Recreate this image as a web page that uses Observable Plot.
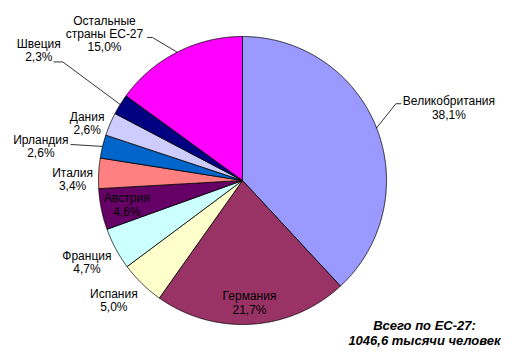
<!DOCTYPE html>
<html><head><meta charset="utf-8">
<script src="https://cdn.jsdelivr.net/npm/d3@7"></script>
<script src="https://cdn.jsdelivr.net/npm/@observablehq/plot@0.6"></script>
<style>body{margin:0;background:#fff}svg{font-family:"Liberation Sans",Arial,sans-serif}</style>
</head><body><div id="chart"></div>
<script>
// ---- data ----
const countries = ["Великобритания","Германия","Испания","Франция","Австрия","Италия","Ирландия","Дания","Швеция","Остальные страны ЕС-27"];
const labelNames = ["Великобритания","Германия","Испания","Франция","Австрия","Италия","Ирландия","Дания","Швеция","Остальные\nстраны ЕС-27"];
const shares = [38.1, 21.7, 5.0, 4.7, 4.6, 3.4, 2.6, 2.6, 2.3, 15.0];
const colors = ["#9999FF","#993366","#FFFFCC","#CCFFFF","#660066","#FF8080","#0066CC","#CCCCFF","#000080","#FF00FF"];
const totalText = ["Всего по ЕС-27:", "1046,6 тысячи человек"];

// ---- layout (label placement in polar terms, leader offsets in px) ----
const PX = 144; // pixels per unit radius
const labelRadius = [1.52, 0.85, 1.22, 1.22, 0.82, 1.18, 1.42, 1.15, 1.68, 1.40];
const labelTurn   = [2.0, 0.5, 2.8, 0.6, -0.3, -2.6, -4.1, -2.8, 0.8, -16.2];
const leaders = { // [anchor offset, elbow offset] in px relative to label centre
  0: [[-48,-4],[-53,-4]],
  6: [[30,-2],[30,-2]],
  8: [[15,12],[24,12]],
  9: [[43,4],[48,4]]
};

const total = d3.sum(shares);
const rad = a => a * Math.PI / 180;
const pt = (a, r) => ({x: r * Math.sin(rad(a)), y: r * Math.cos(rad(a))});

let cum = 0;
const slices = countries.map((name, i) => {
  const a0 = cum / total * 360; cum += shares[i];
  const a1 = cum / total * 360;
  return {name, color: colors[i], a0, a1, mid: (a0 + a1) / 2, i};
});

const slicePts = [];
for (const s of slices) {
  slicePts.push({name: s.name, color: s.color, x: 0, y: 0});
  const n = Math.max(2, Math.ceil((s.a1 - s.a0) / 0.25));
  for (let k = 0; k <= n; k++) {
    const p = pt(s.a0 + (s.a1 - s.a0) * k / n, 1);
    slicePts.push({name: s.name, color: s.color, ...p});
  }
  slicePts.push({name: s.name, color: s.color, x: 0, y: 0});
}

const labels = slices.map(s => {
  const p = pt(s.mid + labelTurn[s.i], labelRadius[s.i]);
  return {...p, text: labelNames[s.i] + "\n" + shares[s.i].toFixed(1).replace(".", ",") + "%"};
});

const leaderPts = [];
for (const [k, [anc, elb]] of Object.entries(leaders)) {
  const i = +k, L = labels[i], e = pt(slices[i].mid, 1);
  leaderPts.push({id: i, x: L.x + anc[0] / PX, y: L.y - anc[1] / PX});
  leaderPts.push({id: i, x: L.x + elb[0] / PX, y: L.y - elb[1] / PX});
  leaderPts.push({id: i, x: e.x, y: e.y});
}

const totalPos = [{x: (424 - 242) / PX, y: (180 - 332) / PX, text: totalText.join("\n")}];

const chart = Plot.plot({
  width: 516, height: 364, margin: 0,
  x: {domain: [-242 / PX, 274 / PX], axis: null},
  y: {domain: [-184 / PX, 180 / PX], axis: null},
  color: {type: "identity"},
  style: {fontFamily: "'Liberation Sans', Arial, sans-serif", background: "#fff"},
  marks: [
    Plot.line(slicePts, {x: "x", y: "y", z: "name", fill: "color", stroke: "#000", strokeWidth: 0.8, strokeLinejoin: "round"}),
    Plot.line(leaderPts, {x: "x", y: "y", z: "id", stroke: "#000", strokeWidth: 0.8}),
    Plot.text(labels, {x: "x", y: "y", text: "text", fontSize: 12, lineHeight: 1.1, fill: "#000"}),
    Plot.text(totalPos, {x: "x", y: "y", text: "text", fontSize: 13, fontWeight: "bold", fontStyle: "italic", lineHeight: 1.15, fill: "#000"})
  ]
});
document.getElementById("chart").append(chart);
</script>
</body></html>
